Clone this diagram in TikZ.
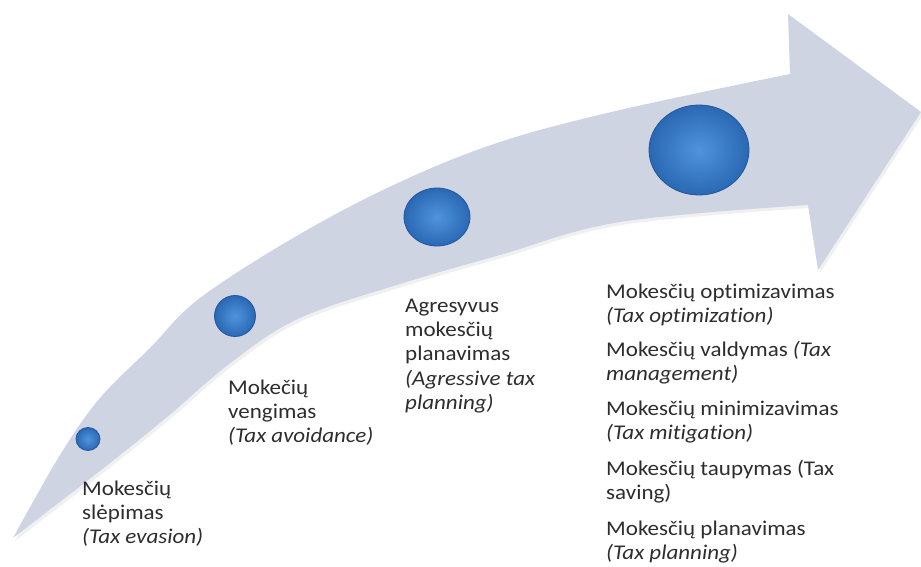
\documentclass[tikz,border=0pt]{standalone}
\usepackage{fontspec}
\setmainfont{Carlito}[FakeStretch=1.1, Ligatures={NoCommon}]
\usetikzlibrary{shapes.geometric}
\definecolor{band}{RGB}{207,212,227}
\definecolor{bandshadow}{RGB}{170,172,180}
\definecolor{ballin}{RGB}{80,148,220}
\definecolor{ballout}{RGB}{42,104,180}
\definecolor{ballrim}{RGB}{36,86,155}
\definecolor{txt}{RGB}{45,45,45}
\begin{document}
\begin{tikzpicture}[x=1bp,y=-1bp,
  ball/.style={ellipse, draw=ballrim, line width=0.8bp, inner color=ballin, outer color=ballout, inner sep=0pt},
  lbl/.style={anchor=base west, inner sep=0pt, text=txt, font=\fontsize{21}{24.5}\selectfont}]
\useasboundingbox (0,0) rectangle (921,567);
% soft shadow
\fill[bandshadow, opacity=0.18, shift={(2,3)}]
  plot[smooth, tension=0.6] coordinates {(13,538) (60,455) (100,398) (150,348) (200,298) (300,234) (400,182) (500,142) (620,110) (790,74)}
  -- (788,14) -- (921,112) -- (818,270) -- (808,205)
  -- plot[smooth, tension=0.6] coordinates {(808,205) (620,222) (500,255) (400,284) (300,318) (233,361) (167,417) (110,463) (13,538)} -- cycle;
% arrow band
\fill[band]
  plot[smooth, tension=0.6] coordinates {(13,538) (60,455) (100,398) (150,348) (200,298) (300,234) (400,182) (500,142) (620,110) (790,74)}
  -- (788,14) -- (921,112) -- (818,270) -- (808,205)
  -- plot[smooth, tension=0.6] coordinates {(808,205) (620,222) (500,255) (400,284) (300,318) (233,361) (167,417) (110,463) (13,538)} -- cycle;
% balls
\node[ball, minimum width=24bp, minimum height=23bp] (b1) at (88,439) {};
\node[ball, minimum width=41bp, minimum height=41bp] (b2) at (235,316) {};
\node[ball, minimum width=66bp, minimum height=58bp] (b3) at (437,217) {};
\node[ball, minimum width=100bp, minimum height=90bp] (b4) at (699,150) {};
% labels
\node[lbl] (t1) at (82,495) {\begin{tabular}[t]{@{}l@{}}Mokesčių\\slėpimas\\\textit{(Tax evasion)}\end{tabular}};
\node[lbl] (t2) at (228,394) {\begin{tabular}[t]{@{}l@{}}Mokečių\\vengimas\\\textit{(Tax avoidance)}\end{tabular}};
\node[lbl] (t3) at (405,312) {\begin{tabular}[t]{@{}l@{}}Agresyvus\\mokesčių\\planavimas\\\textit{(Agressive tax}\\\textit{planning)}\end{tabular}};
\node[lbl] (r1) at (606,298) {\begin{tabular}[t]{@{}l@{}}Mokesčių optimizavimas\\\textit{(Tax optimization)}\end{tabular}};
\node[lbl] (r2) at (606,356) {\begin{tabular}[t]{@{}l@{}}Mokesčių valdymas \textit{(Tax}\\\textit{management)}\end{tabular}};
\node[lbl] (r3) at (606,415) {\begin{tabular}[t]{@{}l@{}}Mokesčių minimizavimas\\\textit{(Tax mitigation)}\end{tabular}};
\node[lbl] (r4) at (606,475) {\begin{tabular}[t]{@{}l@{}}Mokesčių taupymas (Tax\\saving)\end{tabular}};
\node[lbl] (r5) at (606,535) {\begin{tabular}[t]{@{}l@{}}Mokesčių planavimas\\\textit{(Tax planning)}\end{tabular}};
\end{tikzpicture}
\end{document}
